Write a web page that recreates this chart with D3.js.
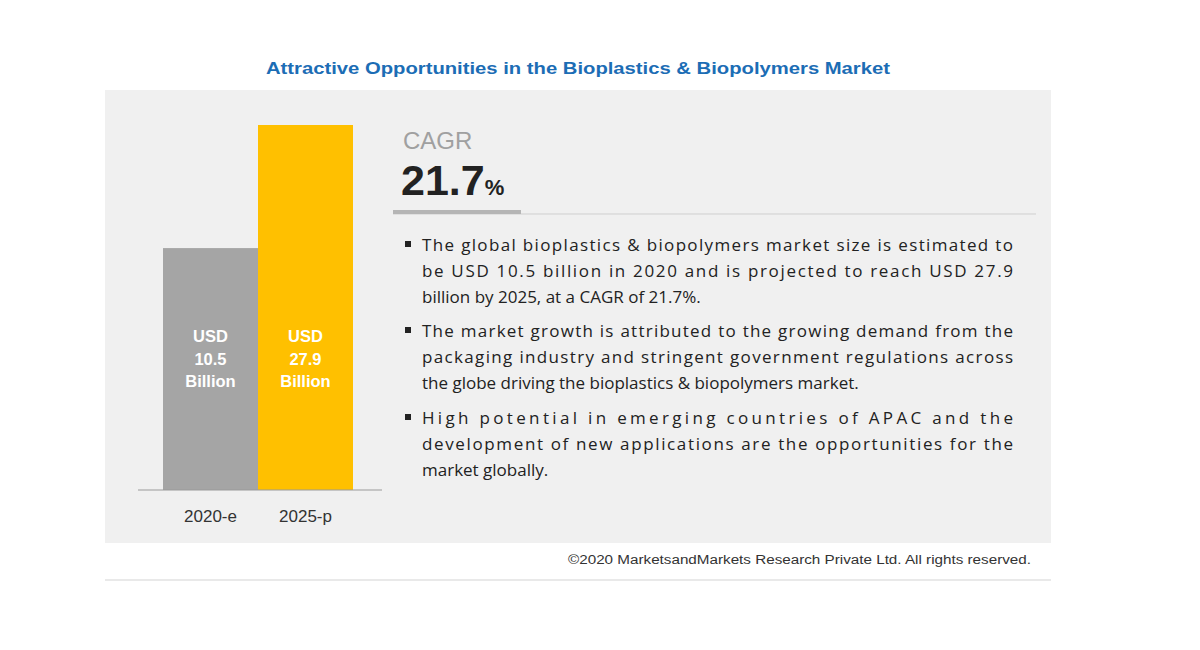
<!DOCTYPE html>
<html>
<head>
<meta charset="utf-8">
<script src="https://cdn.jsdelivr.net/npm/d3@7"></script>
<style>
  body { margin: 0; background: #fff; }
  text { font-family: "Liberation Sans", Arial, sans-serif; }
</style>
</head>
<body>
<div id="chart"></div>
<script>
// Data
const years = ["2020-e", "2025-p"];
const values = [10.5, 27.9];
const barColors = ["#a5a5a5", "#ffc000"];
const cagr = "21.7";
const bullets = [
  ["The global bioplastics & biopolymers market size is estimated to",
   "be USD 10.5 billion in 2020 and is projected to reach USD 27.9",
   "billion by 2025, at a CAGR of 21.7%."],
  ["The market growth is attributed to the growing demand from the",
   "packaging industry and stringent government regulations across",
   "the globe driving the bioplastics & biopolymers market."],
  ["High potential in emerging countries of APAC and the",
   "development of new applications are the opportunities for the",
   "market globally."]
];

const W = 1200, H = 650;
const svg = d3.select("#chart").append("svg")
  .attr("width", W)
  .attr("height", H);

// Title
svg.append("text")
  .attr("x", 266).attr("y", 74)
  .attr("textLength", 624).attr("lengthAdjust", "spacingAndGlyphs")
  .style("font-size", "17px").style("font-weight", "bold")
  .style("fill", "#1c6db5")
  .text("Attractive Opportunities in the Bioplastics & Biopolymers Market");

// Grey panel
svg.append("rect")
  .attr("x", 105).attr("y", 90)
  .attr("width", 946).attr("height", 453)
  .style("fill", "#f0f0f0");

// bottom rule
svg.append("line")
  .attr("x1", 105).attr("x2", 1051)
  .attr("y1", 580).attr("y2", 580)
  .style("stroke", "#e2e2e2").style("stroke-width", 1.5);

// Copyright
svg.append("text")
  .attr("x", 568).attr("y", 564)
  .attr("textLength", 463).attr("lengthAdjust", "spacingAndGlyphs")
  .style("font-size", "12px").style("fill", "#333")
  .text("©2020 MarketsandMarkets Research Private Ltd. All rights reserved.");

// Bars (infographic is not drawn to scale, domain fitted to the picture)
const x = d3.scaleBand().domain(years).range([163, 353]).padding(0);
const y = d3.scaleLinear().domain([-23.7, 27.9]).range([490, 125]);

const bars = svg.append("g");
bars.selectAll("rect")
  .data(values)
  .join("rect")
  .attr("x", (d, i) => x(years[i]))
  .attr("width", x.bandwidth())
  .attr("y", d => y(d))
  .attr("height", d => y(-23.7) - y(d))
  .style("fill", (d, i) => barColors[i]);

// value labels
bars.selectAll("g.lbl")
  .data(values)
  .join("g")
  .attr("class", "lbl")
  .each(function(d, i) {
    const cx = x(years[i]) + x.bandwidth() / 2;
    const lines = ["USD", d3.format(".1f")(d), "Billion"];
    d3.select(this).selectAll("text")
      .data(lines)
      .join("text")
      .attr("x", cx)
      .attr("y", (t, j) => 342 + j * 22.5)
      .attr("text-anchor", "middle")
      .style("font-size", "16.5px").style("font-weight", "bold")
      .style("fill", "#fff")
      .text(t => t);
  });

// baseline axis
svg.append("line")
  .attr("x1", 138).attr("x2", 382)
  .attr("y1", y(-23.7)).attr("y2", y(-23.7))
  .style("stroke", "#9a9a9a").style("stroke-width", 1.2);

const xAxis = svg.append("g")
  .attr("transform", `translate(0,${y(-23.7)})`)
  .call(d3.axisBottom(x).tickSize(0).tickPadding(20));
xAxis.select(".domain").remove();
xAxis.selectAll("text")
  .style("font-size", "17px").style("fill", "#333")
  .style("font-family", "'Liberation Sans', Arial, sans-serif");

// CAGR block
svg.append("text")
  .attr("x", 403).attr("y", 149)
  .style("font-size", "24px").style("fill", "#a0a0a0")
  .text("CAGR");

const big = svg.append("text")
  .attr("x", 401).attr("y", 195)
  .style("fill", "#222")
  .style("font-weight", "bold");
big.append("tspan")
  .style("font-size", "43px")
  .text(cagr);
big.append("tspan")
  .style("font-size", "22px")
  .text("%");

svg.append("line")
  .attr("x1", 393).attr("x2", 1036)
  .attr("y1", 214).attr("y2", 214)
  .style("stroke", "#cfcfcf").style("stroke-width", 1);
svg.append("rect")
  .attr("x", 393).attr("y", 210)
  .attr("width", 128).attr("height", 4)
  .style("fill", "#b5b5b5");

// Bullets (justified: every line but the last of each bullet spans the column)
const paraTop = [251, 337, 424];
const lineH = 26;
bullets.forEach((lines, p) => {
  svg.append("rect")
    .attr("x", 405).attr("y", paraTop[p] - 10)
    .attr("width", 6).attr("height", 6)
    .style("fill", "#222");
  lines.forEach((t, j) => {
    const last = j === lines.length - 1;
    const txt = svg.append("text")
      .attr("x", 422).attr("y", paraTop[p] + j * lineH)
      .style("font-size", "17px").style("fill", "#222")
      .style("font-family", "'Open Sans', sans-serif")
      .text(t);
    if (!last) txt.attr("textLength", 591).attr("lengthAdjust", "spacing");
  });
});
</script>
</body>
</html>
